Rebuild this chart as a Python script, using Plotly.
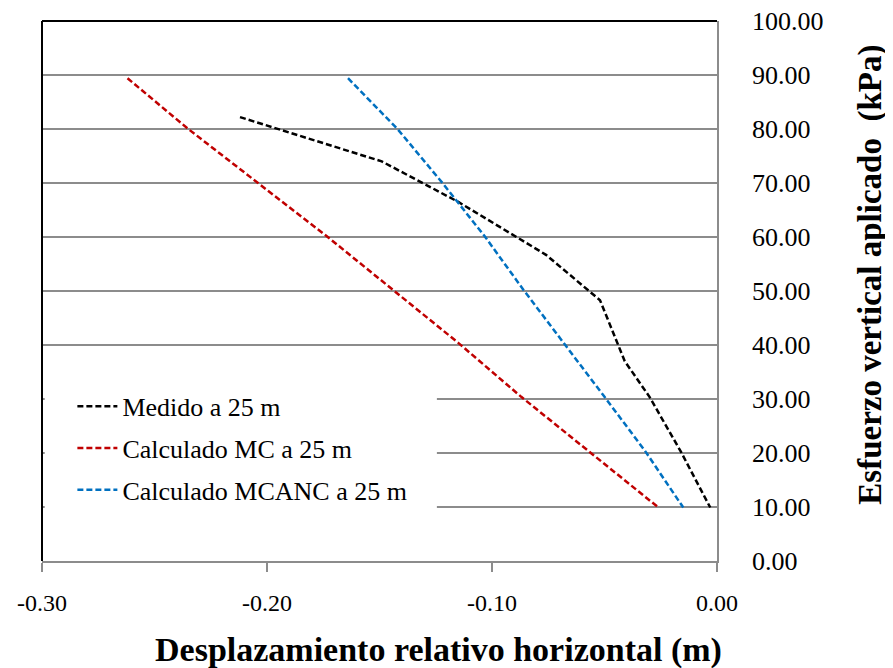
import plotly.graph_objects as go

# Medido a 25 m
medido_x = [-0.212, -0.149, -0.115, -0.076, -0.052, -0.041, -0.030, -0.016, -0.003]
medido_y = [82.2, 74.0, 66.5, 56.7, 48.3, 37.0, 30.4, 20.2, 9.9]

# Calculado MC a 25 m
mc_x = [-0.262, -0.235, -0.204, -0.173, -0.144, -0.115, -0.087, -0.057, -0.026]
mc_y = [89.4, 80.0, 70.0, 60.0, 50.2, 40.4, 30.4, 20.4, 9.9]

# Calculado MCANC a 25 m
mcanc_x = [-0.164, -0.142, -0.122, -0.103, -0.086, -0.068, -0.050, -0.032, -0.015]
mcanc_y = [89.4, 80.0, 70.0, 60.0, 50.2, 40.4, 30.4, 20.4, 9.9]

x_ticks = [-0.30, -0.20, -0.10, 0.00]
x_ticklabels = ["-0.30", "-0.20", "-0.10", "0.00"]

series = [
    ("Medido a 25 m", medido_x, medido_y, "#000000"),
    ("Calculado MC a 25 m", mc_x, mc_y, "#C00000"),
    ("Calculado MCANC a 25 m", mcanc_x, mcanc_y, "#0070C0"),
]

FONT = "Liberation Serif, Times New Roman, serif"
GRID = "#8c8c8c"

fig = go.Figure()
for i, (name, xs, ys, color) in enumerate(series):
    fig.add_trace(go.Scatter(
        x=xs, y=ys, mode="lines", name=name, legendgroup=f"g{i}",
        line=dict(color=color, width=2.5, dash="6px,3px"),
    ))

# page body has an 8px margin, so the figure is 8px smaller and shifted
fig.update_layout(
    width=885, height=660,
    margin=dict(l=34, r=176, t=13, b=107, autoexpand=False),
    plot_bgcolor="white", paper_bgcolor="white",
    font=dict(family=FONT, color="black"),
    showlegend=True,
    legend=dict(
        x=0.045, y=0.33, xanchor="left", yanchor="top",
        bgcolor="white", font=dict(size=26, family=FONT),
        tracegroupgap=5, traceorder="grouped", itemwidth=40,
    ),
)

fig.update_xaxes(
    range=[-0.30, 0.0], tickvals=x_ticks, ticktext=x_ticklabels,
    showgrid=False, zeroline=False,
    showline=True, linecolor=GRID, linewidth=1.5,
    ticks="outside", ticklen=9, tickcolor=GRID, tickwidth=1.5,
    tickfont=dict(size=24, family=FONT), ticklabelstandoff=10,
)
fig.update_yaxes(
    range=[0, 100], dtick=10, tickformat=".2f", side="right",
    showgrid=True, gridcolor=GRID, gridwidth=1.5, zeroline=False,
    showline=True, linecolor=GRID, linewidth=1.5,
    ticks="outside", ticklen=0, ticklabeloverflow="allow",
    tickfont=dict(size=26, family=FONT), ticklabelstandoff=28,
)

# white legend panel hiding the gridlines behind it
fig.add_shape(type="rect", xref="paper", yref="paper", x0=0.004, x1=0.585,
              y0=0.094, y1=0.317, layer="above",
              fillcolor="white", line=dict(width=0))

# top and left borders (black)
fig.add_shape(type="line", xref="paper", yref="paper", x0=0, x1=1, y0=1, y1=1,
              line=dict(color="black", width=2))
fig.add_shape(type="line", xref="paper", yref="paper", x0=0, x1=0, y0=0, y1=1,
              line=dict(color="black", width=2))

fig.add_annotation(text="<b>Desplazamiento relativo horizontal (m)</b>",
                   xref="paper", yref="paper", x=0.587, y=-0.165,
                   xanchor="center", yanchor="middle", showarrow=False,
                   font=dict(size=34, family=FONT))
fig.add_annotation(text="<b>Esfuerzo vertical aplicado  (kPa)</b>",
                   xref="paper", yref="paper", x=1.228, y=0.53, textangle=-90,
                   xanchor="center", yanchor="middle", showarrow=False,
                   font=dict(size=33, family=FONT))

fig.write_html("out.html")
